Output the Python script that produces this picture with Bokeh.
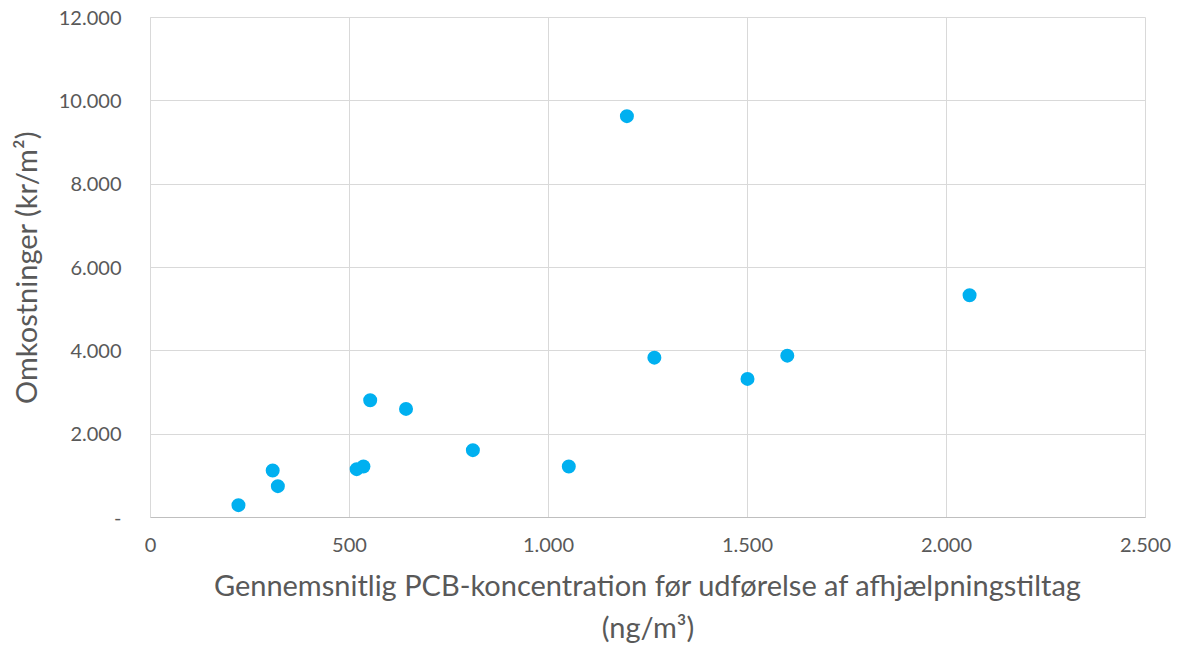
from bokeh.plotting import figure
from bokeh.embed import file_html
from bokeh.resources import INLINE
from bokeh.models import FixedTicker, ColumnDataSource

# Data
pcb_conc = [221, 307, 320, 518, 535, 552, 642, 810, 1051, 1197, 1266, 1500, 1600, 2058]
cost = [297, 1127, 753, 1161, 1223, 2815, 2607, 1616, 1223, 9633, 3837, 3326, 3885, 5333]

x_ticks = [0, 500, 1000, 1500, 2000, 2500]
x_tick_labels = ["0", "500", "1.000", "1.500", "2.000", "2.500"]
y_ticks = [0, 2000, 4000, 6000, 8000, 10000, 12000]
y_tick_labels = ["-", "2.000", "4.000", "6.000", "8.000", "10.000", "12.000"]

x_title = "Gennemsnitlig PCB-koncentration før udførelse af afhjælpningstiltag\n(ng/m³)"
y_title = "Omkostninger (kr/m²)"

FONT = "Lato"
TXT = "#595959"
GRID = "#d9d9d9"

src = ColumnDataSource(dict(x=pcb_conc, y=cost))

p = figure(width=1182, height=646, output_backend="svg", toolbar_location=None,
           x_range=(0, 2500), y_range=(0, 12000),
           min_border_left=150, min_border_right=37, min_border_top=17, min_border_bottom=128)

p.scatter("x", "y", source=src, size=14, color="#00b0f0", line_color=None)

p.xaxis.ticker = FixedTicker(ticks=x_ticks)
p.yaxis.ticker = FixedTicker(ticks=y_ticks)
p.xaxis.major_label_overrides = {t: l for t, l in zip(x_ticks, x_tick_labels)}
p.yaxis.major_label_overrides = {t: l for t, l in zip(y_ticks, y_tick_labels)}

for ax in (p.xaxis[0], p.yaxis[0]):
    ax.major_tick_line_color = None
    ax.minor_tick_line_color = None
    ax.major_label_text_font = FONT
    ax.major_label_text_font_size = "20px"
    ax.major_label_text_color = TXT
    ax.axis_label_text_font = FONT
    ax.axis_label_text_font_size = "29px"
    ax.axis_label_text_font_style = "normal"
    ax.axis_label_text_color = TXT

p.xaxis.axis_line_color = "#bfbfbf"
p.yaxis.axis_line_color = GRID
p.xaxis.major_label_standoff = 14
p.yaxis.major_label_standoff = 23
p.xaxis.axis_label = x_title
p.yaxis.axis_label = y_title
p.xaxis.axis_label_standoff = 12
p.yaxis.axis_label_standoff = 13

p.xgrid.grid_line_color = GRID
p.ygrid.grid_line_color = GRID
p.outline_line_color = GRID
p.background_fill_color = "white"
p.border_fill_color = "white"

open("out.html", "w").write(file_html(p, INLINE))
